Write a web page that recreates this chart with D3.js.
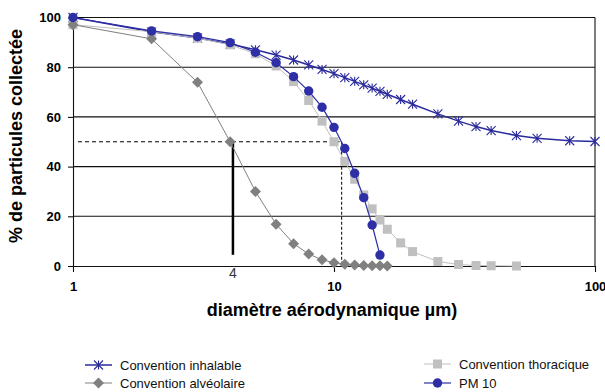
<!DOCTYPE html>
<html>
<head>
<meta charset="utf-8">
<script src="https://cdn.jsdelivr.net/npm/d3@7"></script>
<style>
  body { margin: 0; background: #fff; }
  svg { font-family: "Liberation Sans", Arial, sans-serif; }
</style>
</head>
<body>
<figure id="chart" style="margin:0"></figure>
<script>
// data (diameter in µm, % collected)
const inhalableX = [1, 2, 3, 4, 5, 6, 7, 8, 9, 10, 11, 12, 13, 14, 15, 16, 18, 20, 25, 30, 35, 40, 50, 60, 80, 100];
const inhalableY = [100, 94.3, 91.7, 89.3, 87.0, 84.9, 82.9, 80.9, 79.1, 77.4, 75.8, 74.3, 72.9, 71.6, 70.3, 69.1, 67.0, 65.1, 61.2, 58.3, 56.1, 54.5, 52.5, 51.4, 50.4, 50.1];
const thoraciqueX = [1, 2, 3, 4, 5, 6, 7, 8, 9, 10, 11, 12, 13, 14, 15, 16, 18, 20, 25, 30, 35, 40, 50];
const thoraciqueY = [97.1, 94.3, 91.7, 89.0, 85.4, 80.5, 74.2, 66.6, 58.3, 50.0, 42.1, 34.9, 28.6, 23.0, 18.5, 14.8, 9.3, 5.8, 1.8, 0.6, 0.2, 0.1, 0];
const alveolaireX = [1, 2, 3, 4, 5, 6, 7, 8, 9, 10, 11, 12, 13, 14, 15, 16];
const alveolaireY = [97.1, 91.4, 73.9, 50.0, 30.0, 16.8, 9.0, 4.8, 2.5, 1.3, 0.7, 0.4, 0.2, 0.1, 0.1, 0];
const pm10X = [1, 2, 3, 4, 5, 6, 7, 8, 9, 10, 11, 12, 13, 14, 15];
const pm10Y = [100, 94.6, 92.3, 89.9, 86.0, 81.8, 76.2, 70.4, 63.9, 55.8, 47.3, 37.3, 27.5, 16.5, 4.4];
const xTicks = [1, 10, 100];
const yTicks = [0, 20, 40, 60, 80, 100];

const margin = { top: 17.5, right: 10, bottom: 126, left: 73 };
const W = 605, H = 392;
const width = W - margin.left - margin.right;
const height = H - margin.top - margin.bottom;

const svg = d3.select("figure#chart")
  .append("svg")
  .attr("width", W)
  .attr("height", H);
const g = svg.append("g")
  .attr("transform", "translate(" + margin.left + "," + margin.top + ")");

const x = d3.scaleLog().domain([1, 100]).range([0, width]);
const y = d3.scaleLinear().domain([0, 100]).range([height, 0]);

// grid lines
g.selectAll("line.grid")
  .data(yTicks.filter(d => d > 0))
  .enter().append("line")
  .attr("class", "grid")
  .attr("x1", 0).attr("x2", width)
  .attr("y1", d => y(d)).attr("y2", d => y(d))
  .attr("stroke", "#111").attr("stroke-width", 1.1);

// right border
g.append("line")
  .attr("x1", width).attr("x2", width)
  .attr("y1", 0).attr("y2", height)
  .attr("stroke", "#111").attr("stroke-width", 1.1);

// axes
const yAxis = g.append("g")
  .call(d3.axisLeft(y).tickValues(yTicks).tickSize(5).tickSizeOuter(0).tickPadding(7));
const xAxis = g.append("g")
  .attr("transform", "translate(0," + height + ")")
  .call(d3.axisBottom(x).tickValues(xTicks).tickFormat(d3.format("d")).tickSize(6).tickSizeOuter(0).tickPadding(10));
[xAxis, yAxis].forEach(a => {
  a.selectAll("path, line").attr("stroke", "#111").attr("stroke-width", 1.1);
  a.selectAll("text")
    .attr("fill", "#000")
    .style("font-size", "13px")
    .style("font-weight", "bold")
    .style("font-family", "'Liberation Sans', Arial, sans-serif");
});

// annotations at 50 %
const d50 = 10.7;
g.append("line")
  .attr("x1", 5).attr("x2", x(d50) - 2)
  .attr("y1", y(50)).attr("y2", y(50))
  .attr("stroke", "#000").attr("stroke-width", 1)
  .attr("stroke-dasharray", "4,3");
g.append("line")
  .attr("x1", x(d50)).attr("x2", x(d50))
  .attr("y1", y(50)).attr("y2", y(0))
  .attr("stroke", "#000").attr("stroke-width", 1)
  .attr("stroke-dasharray", "3,2");
g.append("line")
  .attr("x1", x(4.1)).attr("x2", x(4.1))
  .attr("y1", y(50)).attr("y2", y(4.5))
  .attr("stroke", "#000").attr("stroke-width", 2.5);
g.append("text")
  .attr("x", x(4.1)).attr("y", height + 12)
  .attr("text-anchor", "middle")
  .style("font-size", "14px")
  .attr("fill", "#333")
  .text("4");

// series
const series = [
  { name: "Convention inhalable", xs: inhalableX, ys: inhalableY, color: "#2a2a9c", width: 1.5, marker: "star" },
  { name: "Convention thoracique", xs: thoraciqueX, ys: thoraciqueY, color: "#c0c0c0", width: 1, marker: "square" },
  { name: "Convention alvéolaire", xs: alveolaireX, ys: alveolaireY, color: "#808080", width: 1, marker: "diamond" },
  { name: "PM 10", xs: pm10X, ys: pm10Y, color: "#2e2ea6", width: 1.2, marker: "circle" }
];

function drawMarker(sel, type, color) {
  if (type === "star") {
    sel.append("path")
      .attr("d", "M-4.5,-4.5L4.5,4.5M-4.5,4.5L4.5,-4.5M0,-4.5L0,4.5")
      .attr("stroke", color).attr("stroke-width", 1.1).attr("fill", "none");
  } else if (type === "square") {
    sel.append("rect")
      .attr("x", -4.5).attr("y", -4.5).attr("width", 9).attr("height", 9)
      .attr("fill", color);
  } else if (type === "diamond") {
    sel.append("path")
      .attr("d", "M0,-5.5L5.5,0L0,5.5L-5.5,0Z")
      .attr("fill", color);
  } else {
    sel.append("circle").attr("r", 4.7).attr("fill", color);
  }
}

const line = d3.line().x(d => x(d[0])).y(d => y(d[1]));

series.forEach(s => {
  const pts = s.xs.map((v, i) => [v, s.ys[i]]);
  g.append("path")
    .datum(pts)
    .attr("d", line)
    .attr("fill", "none")
    .attr("stroke", s.color)
    .attr("stroke-width", s.width);
  g.selectAll(null)
    .data(pts)
    .enter().append("g")
    .attr("transform", d => "translate(" + x(d[0]) + "," + y(d[1]) + ")")
    .each(function () { drawMarker(d3.select(this), s.marker, s.color); });
});

// axis titles
svg.append("text")
  .attr("x", 332).attr("y", 316)
  .attr("text-anchor", "middle")
  .style("font-size", "18px")
  .style("font-weight", "bold")
  .text("diamètre aérodynamique µm)");
svg.append("text")
  .attr("transform", "translate(22,136) rotate(-90)")
  .attr("text-anchor", "middle")
  .style("font-size", "18px")
  .style("font-weight", "bold")
  .text("% de particules collectée");

// legend
const legendPos = [
  { s: series[0], x: 85, y: 365 },
  { s: series[2], x: 85, y: 383 },
  { s: series[1], x: 424, y: 364 },
  { s: series[3], x: 424, y: 383 }
];
legendPos.forEach(l => {
  const lg = svg.append("g").attr("transform", "translate(" + l.x + "," + l.y + ")");
  lg.append("line").attr("x1", 0).attr("x2", 27).attr("y1", 0).attr("y2", 0)
    .attr("stroke", l.s.color).attr("stroke-width", l.s.width);
  drawMarker(lg.append("g").attr("transform", "translate(13.5,0)"), l.s.marker, l.s.color);
  lg.append("text")
    .attr("x", l.x > 300 ? 35 : 35)
    .attr("y", 4.5)
    .style("font-size", "13px")
    .attr("fill", "#111")
    .text(l.s.name);
});
</script>
</body>
</html>
